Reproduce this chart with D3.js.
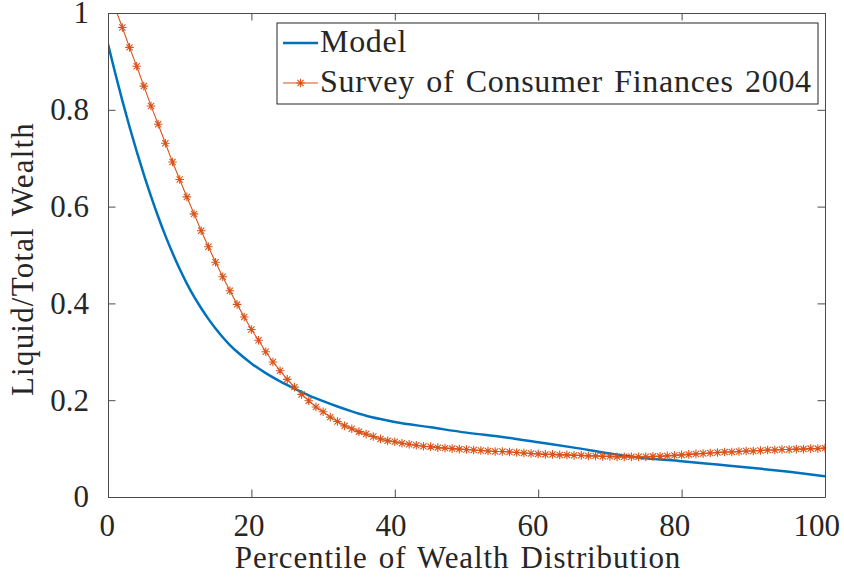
<!DOCTYPE html>
<html>
<head>
<meta charset="utf-8">
<script src="https://cdn.jsdelivr.net/npm/d3@7"></script>
<style>
  body { margin: 0; background: #fff; }
  svg text { font-family: "Liberation Serif", "Times New Roman", serif; fill: #262626; }
</style>
</head>
<body>
<svg width="844" height="578"></svg>
<script>
var width = 844;
var height = 578;
var margin = {left: 108, right: 19, top: 13, bottom: 81};

// Model curve
var modelPct = [0, 1, 2, 3, 4, 5, 6, 7, 8, 9, 10, 11, 12, 13, 14, 15, 16, 17, 18, 20, 22, 24, 26, 28, 30,
                32, 34, 36, 38, 40, 45, 50, 55, 60, 65, 70, 75, 80, 85, 90, 95, 100];
var modelVal = [0.936, 0.876, 0.819, 0.765, 0.714, 0.666, 0.621, 0.579, 0.540, 0.504, 0.471, 0.441, 0.414,
                0.390, 0.368, 0.348, 0.330, 0.314, 0.300, 0.276, 0.256, 0.239, 0.224, 0.210, 0.198,
                0.187, 0.177, 0.168, 0.161, 0.155, 0.144, 0.133, 0.124, 0.113, 0.102, 0.090, 0.080,
                0.074, 0.067, 0.060, 0.052, 0.043];

// Survey of Consumer Finances 2004, one point per percentile
var scfPct = [1, 2, 3, 4, 5, 6, 7, 8, 9, 10, 11, 12, 13, 14, 15, 16, 17, 18, 19, 20,
              21, 22, 23, 24, 25, 26, 27, 28, 29, 30, 31, 32, 33, 34, 35, 36, 37, 38, 39, 40,
              41, 42, 43, 44, 45, 46, 47, 48, 49, 50, 51, 52, 53, 54, 55, 56, 57, 58, 59, 60,
              61, 62, 63, 64, 65, 66, 67, 68, 69, 70, 71, 72, 73, 74, 75, 76, 77, 78, 79, 80,
              81, 82, 83, 84, 85, 86, 87, 88, 89, 90, 91, 92, 93, 94, 95, 96, 97, 98, 99, 100];
var scfVal = [1.010, 0.970, 0.929, 0.890, 0.849, 0.808, 0.770, 0.731, 0.692, 0.656,
              0.620, 0.585, 0.550, 0.517, 0.485, 0.455, 0.426, 0.398, 0.372, 0.346,
              0.324, 0.300, 0.279, 0.261, 0.243, 0.227, 0.212, 0.199, 0.186, 0.176,
              0.165, 0.156, 0.147, 0.141, 0.135, 0.130, 0.125, 0.120, 0.116, 0.114,
              0.111, 0.109, 0.107, 0.105, 0.104, 0.102, 0.101, 0.100, 0.099, 0.098,
              0.097, 0.096, 0.095, 0.094, 0.094, 0.093, 0.092, 0.091, 0.090, 0.089,
              0.088, 0.088, 0.087, 0.087, 0.086, 0.086, 0.085, 0.085, 0.084, 0.084,
              0.083, 0.083, 0.083, 0.083, 0.083, 0.084, 0.084, 0.085, 0.086, 0.087,
              0.088, 0.089, 0.090, 0.091, 0.092, 0.093, 0.093, 0.094, 0.095, 0.095,
              0.096, 0.097, 0.097, 0.098, 0.098, 0.099, 0.099, 0.100, 0.100, 0.101];

var xTicks = [0, 20, 40, 60, 80, 100];
var yTicks = [0, 0.2, 0.4, 0.6, 0.8, 1];
var seriesNames = ['Model', 'Survey of Consumer Finances 2004'];

var blue = '#0072BD';
var orange = '#D95319';
var axisColor = '#4a4a4a';

var svg = d3.select('svg');

var x = d3.scaleLinear()
          .domain([0, 100])
          .range([margin.left, width - margin.right]);
var y = d3.scaleLinear()
          .domain([0, 1])
          .range([height - margin.bottom, margin.top]);

svg.append('clipPath')
        .attr('id', 'plot-clip')
    .append('rect')
        .attr('x', x(0))
        .attr('y', y(1))
        .attr('width', x(100) - x(0))
        .attr('height', y(0) - y(1));

var plot = svg.append('g').attr('clip-path', 'url(#plot-clip)');

// Model line
var modelData = modelPct.map((p, i) => ({p: p, v: modelVal[i]}));
plot.append('path')
        .datum(modelData)
        .attr('fill', 'none')
        .attr('stroke', blue)
        .attr('stroke-width', 2.5)
        .attr('d', d3.line().x(d => x(d.p)).y(d => y(d.v)).curve(d3.curveMonotoneX));

// Survey line + asterisk markers
var scfData = scfPct.map((p, i) => ({p: p, v: scfVal[i]}));
plot.append('path')
        .datum(scfData)
        .attr('fill', 'none')
        .attr('stroke', orange)
        .attr('stroke-width', 1.1)
        .attr('d', d3.line().x(d => x(d.p)).y(d => y(d.v)));

function asterisk(r) {
    var q = r * 0.72;
    return `M${-r},0L${r},0M0,${-r}L0,${r}M${-q},${-q}L${q},${q}M${-q},${q}L${q},${-q}`;
}

plot.selectAll('.marker')
    .data(scfData)
    .enter()
    .append('path')
        .classed('marker', true)
        .attr('transform', d => `translate(${x(d.p)}, ${y(d.v)})`)
        .attr('d', asterisk(4.3))
        .attr('fill', 'none')
        .attr('stroke', orange)
        .attr('stroke-width', 1.1);

// Axes (box with inward ticks on all four sides)
var tickLen = 7.5;
var fontSize = 31;

var bottomAxis = d3.axisBottom(x).tickValues(xTicks).tickSizeInner(-tickLen).tickSizeOuter(0).tickPadding(16.5);
var topAxis = d3.axisTop(x).tickValues(xTicks).tickSizeInner(-tickLen).tickSizeOuter(0).tickFormat('');
var leftAxis = d3.axisLeft(y).tickValues(yTicks).tickSizeInner(-tickLen).tickSizeOuter(0).tickPadding(19)
                 .tickFormat(d3.format('~g'));
var rightAxis = d3.axisRight(y).tickValues(yTicks).tickSizeInner(-tickLen).tickSizeOuter(0).tickFormat('');

function styleAxis(g) {
    g.select('.domain').attr('stroke', axisColor).attr('stroke-width', 1);
    g.selectAll('.tick line').attr('stroke', axisColor).attr('stroke-width', 1);
    g.selectAll('.tick text')
        .attr('font-family', null)
        .attr('font-size', fontSize)
        .attr('fill', '#262626');
}

// x tick labels sit slightly left of their ticks in the original, more so to the right
svg.append('g')
        .attr('transform', `translate(0, ${y(0)})`)
        .call(bottomAxis)
        .call(styleAxis)
        .selectAll('.tick text')
            .attr('dy', '0.71em')
            .attr('dx', d => -1.3 - d * 0.075);
svg.append('g')
        .attr('transform', `translate(0, ${y(1)})`)
        .call(topAxis)
        .call(styleAxis);
svg.append('g')
        .attr('transform', `translate(${x(0)}, 0)`)
        .call(leftAxis)
        .call(styleAxis);
svg.append('g')
        .attr('transform', `translate(${x(100)}, 0)`)
        .call(rightAxis)
        .call(styleAxis);

// Axis labels
svg.append('text')
        .attr('x', 458)
        .attr('y', 568)
        .attr('text-anchor', 'middle')
        .attr('font-size', fontSize)
        .style('word-spacing', '2.5px')
        .style('letter-spacing', '0.9px')
        .text('Percentile of Wealth Distribution');

svg.append('text')
        .attr('transform', `translate(33, 259) rotate(-90)`)
        .attr('text-anchor', 'middle')
        .attr('font-size', fontSize)
        .style('word-spacing', '2.5px')
        .style('letter-spacing', '1.2px')
        .text('Liquid/Total Wealth');

// Legend
var legend = svg.append('g').attr('transform', 'translate(277, 23)');
legend.append('rect')
        .attr('width', 541)
        .attr('height', 81)
        .attr('fill', '#fff')
        .attr('stroke', '#262626')
        .attr('stroke-width', 1);

var rows = legend.selectAll('.row')
    .data(seriesNames)
    .enter()
    .append('g')
        .classed('row', true)
        .attr('transform', (d, i) => `translate(0, ${20 + i * 40})`);

rows.append('line')
        .attr('x1', 6)
        .attr('x2', 41)
        .attr('stroke', (d, i) => i === 0 ? blue : orange)
        .attr('stroke-width', (d, i) => i === 0 ? 2.5 : 1.1);

rows.filter((d, i) => i === 1)
    .append('path')
        .attr('transform', 'translate(23.5, 0)')
        .attr('d', asterisk(4.3))
        .attr('fill', 'none')
        .attr('stroke', orange)
        .attr('stroke-width', 1.1);

rows.append('text')
        .attr('x', 43)
        .attr('y', 8.5)
        .attr('font-size', 32)
        .style('word-spacing', '2.7px')
        .style('letter-spacing', '0.7px')
        .text(d => d);
</script>
</body>
</html>
